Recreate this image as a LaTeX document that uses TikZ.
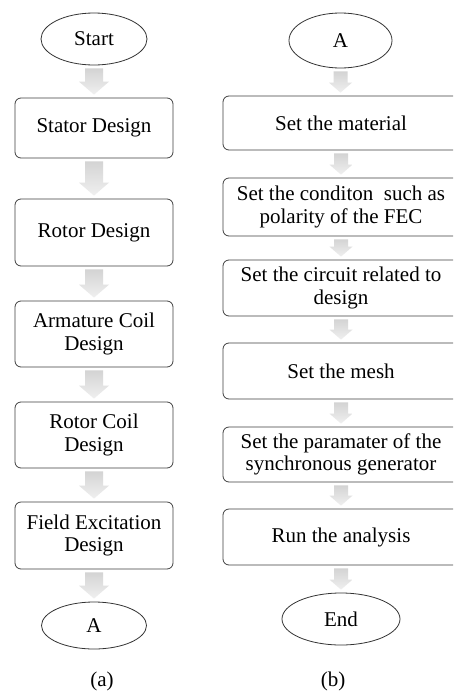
\documentclass[tikz,border=0pt]{standalone}
\usepackage{fontspec}
\setmainfont{Liberation Serif}
\usetikzlibrary{shapes.geometric,calc}

\tikzset{
  txt/.style={font=\fontsize{21}{22.5}\selectfont, align=center, inner sep=0pt},
  stepbox/.style={txt, draw=black!75, line width=0.8pt, rounded corners=6pt},
  leftbox/.style={stepbox, minimum width=158pt},
  rightbox/.style={stepbox, minimum width=236pt},
  terminal/.style={txt, ellipse, draw=black!80, line width=0.8pt},
  arrowfill/.style={top color=black!17, bottom color=black!6, draw=none},
}

% grey block arrow from the bottom of #1 to the top of #2
% #3 half shaft width, #4 half head width, #5 head length
\newcommand\flowarrow[5]{%
  \path[arrowfill] let \p1=(#1.south), \p2=(#2.north) in
    (\x1-#3,\y1-3pt) -- (\x1+#3,\y1-3pt) -- (\x1+#3,\y2+3pt+#5)
    -- (\x1+#4,\y2+3pt+#5) -- (\x1,\y2+3pt) -- (\x1-#4,\y2+3pt+#5)
    -- (\x1-#3,\y2+3pt+#5) -- cycle;}

\begin{document}
\begin{tikzpicture}[x=1pt,y=-1pt]
\clip (0,0) rectangle (453,694);
\fill[white] (0,0) rectangle (453,694);

% (a) design steps
\node[terminal, minimum width=106pt, minimum height=52pt] (start) at (94,39) {Start};
\node[leftbox, minimum height=60pt] (stator) at (94,128) {Stator Design};
\node[leftbox, minimum height=67pt] (rotor) at (94,232.5) {Rotor Design};
\node[leftbox, minimum height=66pt] (arm) at (94,334) {Armature Coil\\Design};
\node[leftbox, minimum height=66pt] (rcoil) at (94,435) {Rotor Coil\\Design};
\node[leftbox, minimum height=67pt] (field) at (94,535.5) {Field Excitation\\Design};
\node[terminal, minimum width=105pt, minimum height=47pt] (outA) at (94,625.5) {A};
\node[txt] (capa) at (102,681) {(a)};

\flowarrow{start}{stator}{9pt}{15pt}{13pt}
\flowarrow{stator}{rotor}{9pt}{15pt}{13pt}
\flowarrow{rotor}{arm}{9pt}{15pt}{13pt}
\flowarrow{arm}{rcoil}{9pt}{15pt}{13pt}
\flowarrow{rcoil}{field}{9pt}{15pt}{13pt}
\flowarrow{field}{outA}{9pt}{15pt}{13pt}

% (b) simulation steps
\node[terminal, minimum width=103pt, minimum height=55pt] (inA) at (340.5,40.5) {A};
\node[rightbox, minimum height=54pt] (mat) at (341,123) {Set the material};
\node[rightbox, minimum height=58pt] (cond) at (341,207) {Set the conditon\ \ such as\\polarity of the FEC};
\node[rightbox, minimum height=56pt] (circ) at (341,288) {Set the circuit related to\\design};
\node[rightbox, minimum height=56pt] (mesh) at (341,371) {Set the mesh};
\node[rightbox, minimum height=55pt] (par) at (341,454.5) {Set the paramater of the\\synchronous generator};
\node[rightbox, minimum height=56pt] (run) at (341,537) {Run the analysis};
\node[terminal, minimum width=118pt, minimum height=52pt] (fin) at (341,619) {End};
\node[txt] (capb) at (333,681) {(b)};

\flowarrow{inA}{mat}{7pt}{11.5pt}{10pt}
\flowarrow{mat}{cond}{7pt}{11.5pt}{10pt}
\flowarrow{cond}{circ}{7pt}{11.5pt}{10pt}
\flowarrow{circ}{mesh}{7pt}{11.5pt}{10pt}
\flowarrow{mesh}{par}{7pt}{11.5pt}{10pt}
\flowarrow{par}{run}{7pt}{11.5pt}{10pt}
\flowarrow{run}{fin}{7pt}{11.5pt}{10pt}
\end{tikzpicture}
\end{document}
